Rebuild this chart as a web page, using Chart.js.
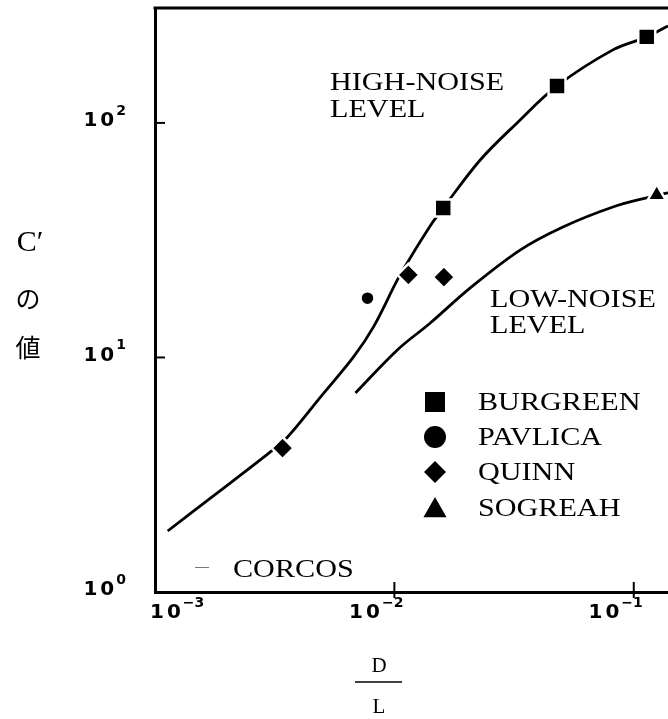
<!DOCTYPE html>
<html>
<head>
<meta charset="utf-8">
<script src="https://cdn.jsdelivr.net/npm/chart.js@4.4.1/dist/chart.umd.min.js"></script>
<style>
  html, body { margin: 0; padding: 0; background: #fff; }
  #wrap { width: 668px; height: 719px; }
</style>
</head>
<body>
<div id="wrap"><canvas id="chart" width="668" height="719"></canvas></div>
<script>
// measured points (D/L, C')
const burgreenX = [0.0160, 0.0478, 0.1133];
const burgreenY = [43.4, 143.8, 232.7];
const pavlicaX = [0.00772];
const pavlicaY = [17.9];
const quinnX = [0.00341, 0.01144, 0.0161];
const quinnY = [4.11, 22.5, 22.0];
const sogreahX = [0.1247];
const sogreahY = [49.3];

// Corcos curves
const highNoiseX = [0.00113, 0.00171, 0.00299, 0.00358, 0.00492, 0.00675, 0.00818, 0.01029, 0.01144, 0.0144, 0.0160, 0.02283, 0.03255, 0.0478, 0.0818, 0.1133, 0.139];
const highNoiseY = [1.82, 2.52, 3.91, 4.58, 6.79, 10.05, 13.5, 21.4, 25.8, 37.5, 43.4, 69.5, 100, 143.8, 204.8, 232.7, 259];
const lowNoiseX = [0.00688, 0.01029, 0.01413, 0.02075, 0.0335, 0.0506, 0.0818, 0.1166, 0.139];
const lowNoiseY = [7.06, 10.77, 14.03, 19.8, 28.7, 36.0, 43.8, 48.3, 50.3];

const xTicks = [0.001, 0.01, 0.1];
const xTickExp = ['−3', '−2', '−1'];
const yTicks = [1, 10, 100];
const yTickExp = ['0', '1', '2'];

const legendNames = ['BURGREEN', 'PAVLICA', 'QUINN', 'SOGREAH'];
const legendStyles = ['rect', 'circle', 'rectRot', 'triangle'];

const pts = (xs, ys) => xs.map((x, i) => ({ x: x, y: ys[i] }));

const SERIF = '"Liberation Serif", "Times New Roman", serif';

function setSpacing(ctx, v) {
    if ('letterSpacing' in ctx) ctx.letterSpacing = v;
}

// serif text, stretched a bit sideways like the original typeface
function wideText(ctx, text, x, y) {
    ctx.save();
    ctx.translate(x, y);
    ctx.scale(1.16, 1);
    ctx.fillText(text, 0, 0);
    ctx.restore();
}

function drawMark(ctx, style, x, y, r) {
    ctx.beginPath();
    if (style === 'rect') {
        ctx.rect(x - r, y - r, 2 * r, 2 * r);
    } else if (style === 'circle') {
        ctx.arc(x, y, r, 0, Math.PI * 2);
    } else if (style === 'rectRot') {
        ctx.moveTo(x, y - r); ctx.lineTo(x + r, y); ctx.lineTo(x, y + r); ctx.lineTo(x - r, y);
        ctx.closePath();
    } else {
        ctx.moveTo(x, y - r); ctx.lineTo(x + r * 1.05, y + r * 0.85); ctx.lineTo(x - r * 1.05, y + r * 0.85);
        ctx.closePath();
    }
    ctx.fill();
}

// "10" + raised exponent
function powWidth(ctx, exp) {
    ctx.font = 'bold 20px "DejaVu Sans"';
    setSpacing(ctx, '3px');
    const w1 = ctx.measureText('10').width;
    ctx.font = 'bold 14px "DejaVu Sans"';
    setSpacing(ctx, '0px');
    return w1 + ctx.measureText(exp).width;
}
function drawPow(ctx, exp, left, midY) {
    ctx.textAlign = 'left';
    ctx.textBaseline = 'middle';
    ctx.font = 'bold 20px "DejaVu Sans"';
    setSpacing(ctx, '3px');
    ctx.fillText('10', left, midY);
    const w1 = ctx.measureText('10').width;
    ctx.font = 'bold 14px "DejaVu Sans"';
    setSpacing(ctx, '0px');
    ctx.fillText(exp, left + w1 - 1, midY - 10);
}

const decorPlugin = {
    id: 'decor',
    afterDraw(chart) {
        const ctx = chart.ctx;
        const a = chart.chartArea;
        const xs = chart.scales.x, ys = chart.scales.y;
        ctx.save();
        ctx.fillStyle = '#000';
        ctx.strokeStyle = '#000';

        // top frame
        ctx.lineWidth = 3;
        ctx.beginPath(); ctx.moveTo(a.left - 1.5, a.top); ctx.lineTo(a.right, a.top); ctx.stroke();

        // inward tick marks
        ctx.lineWidth = 2;
        xTicks.forEach(v => {
            const px = xs.getPixelForValue(v);
            if (px > a.left + 3) {
                ctx.beginPath(); ctx.moveTo(px, a.bottom - 10); ctx.lineTo(px, a.bottom + 6); ctx.stroke();
            }
        });
        yTicks.forEach(v => {
            const py = ys.getPixelForValue(v);
            if (py < a.bottom - 3) {
                ctx.beginPath(); ctx.moveTo(a.left, py); ctx.lineTo(a.left + 10, py); ctx.stroke();
            }
        });

        // tick labels
        xTicks.forEach((v, i) => {
            const px = xs.getPixelForValue(v);
            const w = powWidth(ctx, xTickExp[i]);
            const left = Math.max(a.left - 5, px + 10 - w);
            drawPow(ctx, xTickExp[i], left, a.bottom + 21);
        });
        yTicks.forEach((v, i) => {
            const py = Math.min(ys.getPixelForValue(v), a.bottom + 2);
            const w = powWidth(ctx, yTickExp[i]);
            drawPow(ctx, yTickExp[i], a.left - 28 - w, py - 2);
        });

        // axis titles
        ctx.textAlign = 'center';
        ctx.textBaseline = 'middle';
        setSpacing(ctx, '0px');
        ctx.font = '30px ' + SERIF;
        ctx.fillText('C′', 30, 243);
        ctx.font = '25px "Noto Sans CJK JP"';
        ctx.fillText('の', 28, 298);
        ctx.fillText('値', 28, 347);

        ctx.font = '21px ' + SERIF;
        ctx.textBaseline = 'alphabetic';
        ctx.fillText('D', 379, 672);
        ctx.fillText('L', 379, 713);
        ctx.lineWidth = 1.5;
        ctx.beginPath(); ctx.moveTo(355, 682); ctx.lineTo(402, 682); ctx.stroke();

        // curve annotations
        ctx.textAlign = 'left';
        ctx.font = '26px ' + SERIF;
        wideText(ctx, 'HIGH-NOISE', 330, 90);
        wideText(ctx, 'LEVEL', 330, 117);
        wideText(ctx, 'LOW-NOISE', 490, 307);
        wideText(ctx, 'LEVEL', 490, 333);

        // legend
        const rowY = [402, 437, 472, 508];
        const rowR = [10, 11, 11, 11];
        legendNames.forEach((name, i) => {
            drawMark(ctx, legendStyles[i], 435, rowY[i], rowR[i]);
            wideText(ctx, name, 478, rowY[i] + 8);
        });
        ctx.lineWidth = 1;
        ctx.strokeStyle = '#777';
        ctx.beginPath(); ctx.moveTo(195, 567.5); ctx.lineTo(209, 567.5); ctx.stroke();
        wideText(ctx, 'CORCOS', 233, 577);
        ctx.restore();
    }
};

const markerCommon = {
    type: 'scatter',
    backgroundColor: '#000',
    borderColor: '#fff',
    borderWidth: 2.5,
    order: 1
};
const curveCommon = {
    type: 'line',
    borderColor: '#000',
    borderWidth: 2.8,
    pointRadius: 0,
    fill: false,
    tension: 0.35,
    order: 2
};

new Chart(document.getElementById('chart').getContext('2d'), {
    data: {
        datasets: [
            Object.assign({}, curveCommon, { label: 'CORCOS high-noise', data: pts(highNoiseX, highNoiseY) }),
            Object.assign({}, curveCommon, { label: 'CORCOS low-noise', data: pts(lowNoiseX, lowNoiseY) }),
            Object.assign({}, markerCommon, { label: 'BURGREEN', data: pts(burgreenX, burgreenY), pointStyle: 'rect', pointRadius: 12 }),
            Object.assign({}, markerCommon, { label: 'PAVLICA', data: pts(pavlicaX, pavlicaY), pointStyle: 'circle', pointRadius: 7 }),
            Object.assign({}, markerCommon, { label: 'QUINN', data: pts(quinnX, quinnY), pointStyle: 'rectRot', pointRadius: 11 }),
            Object.assign({}, markerCommon, { label: 'SOGREAH', data: pts(sogreahX, sogreahY), pointStyle: 'triangle', pointRadius: 10.5 })
        ]
    },
    options: {
        responsive: false,
        animation: false,
        layout: { autoPadding: false, padding: { left: 155, right: 0, top: 8, bottom: 127 } },
        plugins: { legend: { display: false }, tooltip: { enabled: false } },
        scales: {
            x: {
                type: 'logarithmic',
                min: 0.001,
                max: 0.139,
                afterBuildTicks: s => { s.ticks = xTicks.map(v => ({ value: v })); },
                ticks: { display: false },
                grid: { display: false, drawTicks: false },
                border: { display: true, color: '#000', width: 3 }
            },
            y: {
                type: 'logarithmic',
                min: 1,
                max: 309,
                afterBuildTicks: s => { s.ticks = yTicks.map(v => ({ value: v })); },
                ticks: { display: false },
                grid: { display: false, drawTicks: false },
                border: { display: true, color: '#000', width: 3 }
            }
        }
    },
    plugins: [decorPlugin]
});
</script>
</body>
</html>
